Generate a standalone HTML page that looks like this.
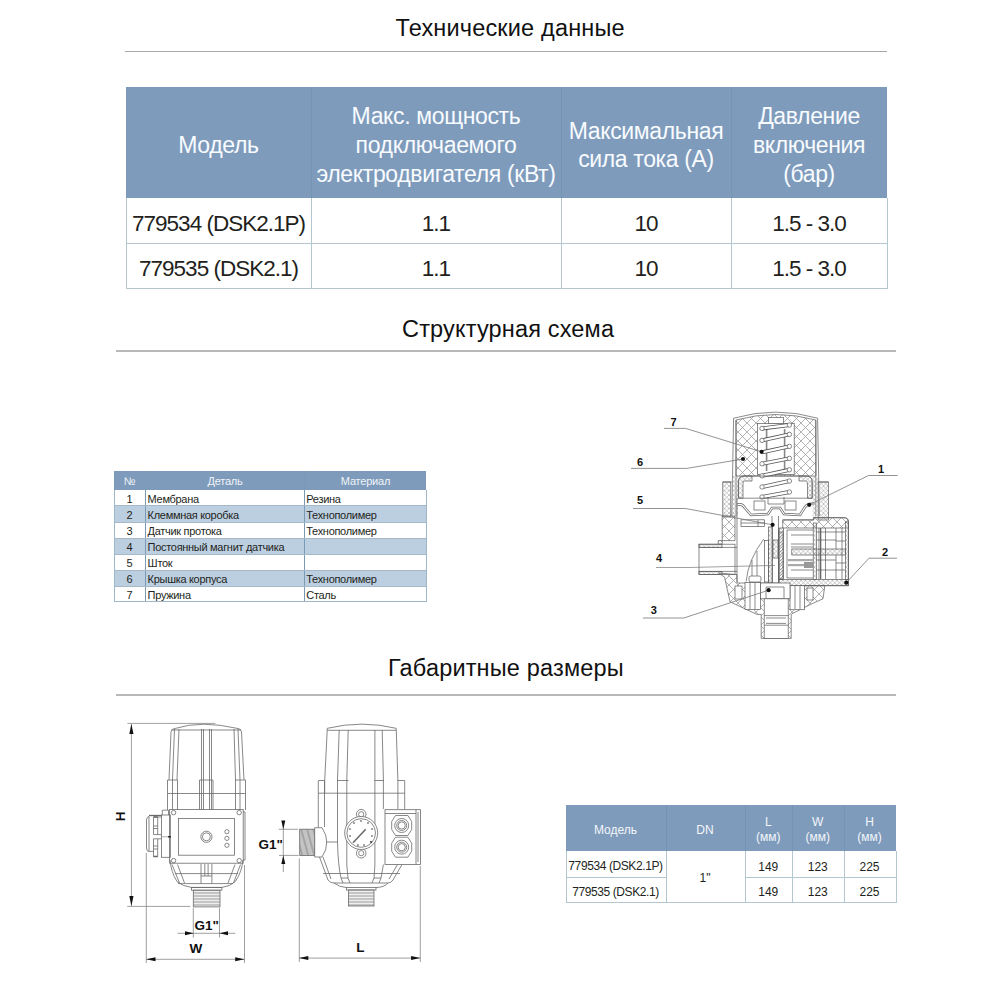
<!DOCTYPE html>
<html><head><meta charset="utf-8">
<style>
html,body{margin:0;padding:0;background:#fff;width:1000px;height:1000px;overflow:hidden;position:relative;font-family:"Liberation Sans",sans-serif;}
.a{position:absolute;white-space:nowrap;}
.title{font-size:23.5px;line-height:23.5px;color:#111;letter-spacing:0.17px;}
.hr{position:absolute;background:#b9b9b9;height:2px;}
.t1h{position:absolute;background:#7f9bbb;}
.wh{color:#fbfdff;}
.c{text-align:center;}
.vl{position:absolute;width:1px;}
.hl{position:absolute;height:1px;}
.b1{font-size:22.5px;line-height:22.5px;color:#231f20;letter-spacing:-1px;}
.h1{font-size:23px;line-height:23px;color:#f8fbff;letter-spacing:-0.36px;}
.s{font-size:11px;line-height:11px;color:#231f20;letter-spacing:-0.3px;}
.sh{font-size:11px;line-height:11px;color:#eef3f8;letter-spacing:-0.2px;}
.m{font-size:12px;line-height:12px;color:#231f20;}
.mh{font-size:12px;line-height:12px;color:#f2f6fa;}
</style></head><body>

<!-- ============ SECTION 1 ============ -->
<div class="a title" style="left:395.5px;top:16.7px;">Технические данные</div>
<div class="hr" style="left:125px;top:50.5px;width:762px;height:1.5px;background:#a8a8a8"></div>

<!-- table 1 -->
<div class="t1h" style="left:126px;top:87.2px;width:761px;height:111.3px;"></div>
<div class="a" style="left:126px;top:198px;width:760px;height:90px;border:1px solid #b4c6d0;border-top:none;box-sizing:content-box"></div>
<div class="vl" style="left:311px;top:87px;height:111px;background:#7494b3"></div>
<div class="vl" style="left:561px;top:87px;height:111px;background:#7494b3"></div>
<div class="vl" style="left:731px;top:87px;height:111px;background:#7494b3"></div>
<div class="vl" style="left:311px;top:198px;height:90px;background:#b4c6d0"></div>
<div class="vl" style="left:561px;top:198px;height:90px;background:#b4c6d0"></div>
<div class="vl" style="left:731px;top:198px;height:90px;background:#b4c6d0"></div>
<div class="hl" style="left:126px;top:243px;width:761px;background:#b4c6d0"></div>

<div class="a h1 c" style="left:126px;width:185px;top:133.7px">Модель</div>
<div class="a h1 c" style="left:311px;width:250px;top:105.1px">Макс. мощность</div>
<div class="a h1 c" style="left:311px;width:250px;top:133.9px">подключаемого</div>
<div class="a h1 c" style="left:311px;width:250px;top:162.7px">электродвигателя (кВт)</div>
<div class="a h1 c" style="left:561px;width:170px;top:119.5px">Максимальная</div>
<div class="a h1 c" style="left:561px;width:170px;top:148.3px">сила тока (А)</div>
<div class="a h1 c" style="left:731px;width:156px;top:105.1px">Давление</div>
<div class="a h1 c" style="left:731px;width:156px;top:133.9px">включения</div>
<div class="a h1 c" style="left:731px;width:156px;top:162.7px">(бар)</div>

<div class="a b1 c" style="left:126px;width:185px;top:213.3px">779534 (DSK2.1P)</div>
<div class="a b1 c" style="left:311px;width:250px;top:213.3px">1.1</div>
<div class="a b1 c" style="left:561px;width:170px;top:213.3px">10</div>
<div class="a b1 c" style="left:731px;width:156px;top:213.3px">1.5 - 3.0</div>
<div class="a b1 c" style="left:126px;width:185px;top:257.9px">779535 (DSK2.1)</div>
<div class="a b1 c" style="left:311px;width:250px;top:257.9px">1.1</div>
<div class="a b1 c" style="left:561px;width:170px;top:257.9px">10</div>
<div class="a b1 c" style="left:731px;width:156px;top:257.9px">1.5 - 3.0</div>

<!-- ============ SECTION 2 ============ -->
<div class="a title" style="left:402px;top:318px;">Структурная схема</div>
<div class="hr" style="left:116px;top:350px;width:780px;"></div>

<!-- small table -->
<div class="t1h" style="left:114px;top:471px;width:312px;height:18.5px;"></div>
<div id="stbody" class="a" style="left:114px;top:489.5px;width:311px;height:111px;border:1px solid #9fb7c9;border-top:none;"></div>
<div class="t1h" style="left:115px;top:505.5px;width:311px;height:17px;background:#bccfe0"></div>
<div class="t1h" style="left:115px;top:538.5px;width:311px;height:16px;background:#bccfe0"></div>
<div class="t1h" style="left:115px;top:570.5px;width:311px;height:15.5px;background:#bccfe0"></div>
<div class="vl" style="left:145px;top:471px;height:130px;background:#7a9ab6"></div>
<div class="vl" style="left:304px;top:471px;height:130px;background:#7a9ab6"></div>
<div class="hl" style="left:114px;top:505px;width:312px;background:#a5b9c9"></div>
<div class="hl" style="left:114px;top:522px;width:312px;background:#a5b9c9"></div>
<div class="hl" style="left:114px;top:538px;width:312px;background:#a5b9c9"></div>
<div class="hl" style="left:114px;top:554px;width:312px;background:#a5b9c9"></div>
<div class="hl" style="left:114px;top:570px;width:312px;background:#a5b9c9"></div>
<div class="hl" style="left:114px;top:585.5px;width:312px;background:#a5b9c9"></div>

<div class="a sh c" style="left:114px;width:31px;top:475.7px">№</div>
<div class="a sh c" style="left:145px;width:160px;top:475.7px">Деталь</div>
<div class="a sh c" style="left:305px;width:121px;top:475.7px">Материал</div>

<div id="st">
<div class="a s c" style="left:114px;width:31px;top:494.0px">1</div>
<div class="a s" style="left:147.6px;top:494.0px">Мембрана</div>
<div class="a s" style="left:306.3px;top:494.0px">Резина</div>
<div class="a s c" style="left:114px;width:31px;top:510.0px">2</div>
<div class="a s" style="left:147.6px;top:510.0px">Клеммная коробка</div>
<div class="a s" style="left:306.3px;top:510.0px">Технополимер</div>
<div class="a s c" style="left:114px;width:31px;top:526.0px">3</div>
<div class="a s" style="left:147.6px;top:526.0px">Датчик протока</div>
<div class="a s" style="left:306.3px;top:526.0px">Технополимер</div>
<div class="a s c" style="left:114px;width:31px;top:542.0px">4</div>
<div class="a s" style="left:147.6px;top:542.0px">Постоянный магнит датчика</div>
<div class="a s c" style="left:114px;width:31px;top:558.0px">5</div>
<div class="a s" style="left:147.6px;top:558.0px">Шток</div>
<div class="a s c" style="left:114px;width:31px;top:574.0px">6</div>
<div class="a s" style="left:147.6px;top:574.0px">Крышка корпуса</div>
<div class="a s" style="left:306.3px;top:574.0px">Технополимер</div>
<div class="a s c" style="left:114px;width:31px;top:590.0px">7</div>
<div class="a s" style="left:147.6px;top:590.0px">Пружина</div>
<div class="a s" style="left:306.3px;top:590.0px">Сталь</div>
</div>

<!-- SCHEMATIC -->
<svg class="a" style="left:0;top:0" width="1000" height="1000" viewBox="0 0 1000 1000">
<defs>
<pattern id="hx" patternUnits="userSpaceOnUse" width="9" height="9">
<path d="M0,0 L9,9 M9,0 L0,9" stroke="#999" stroke-width="0.75" fill="none"/>
</pattern>
<pattern id="hs" patternUnits="userSpaceOnUse" width="4.5" height="4.5">
<path d="M0,0 L4.5,4.5 M4.5,0 L0,4.5" stroke="#a0a0a0" stroke-width="0.6" fill="none"/>
</pattern>
<pattern id="hd" patternUnits="userSpaceOnUse" width="3" height="3">
<path d="M0,3 L3,0" stroke="#777" stroke-width="0.6" fill="none"/>
</pattern>
<marker id="ar" viewBox="0 0 10 4" refX="10" refY="2" markerWidth="9" markerHeight="4" markerUnits="userSpaceOnUse" orient="auto-start-reverse"><path d="M0,0 L10,2 L0,4 z" fill="#111"/></marker>
</defs>
<g fill="none" stroke="#5a5a5a" stroke-width="0.7">
<!-- ===== SCHEMATIC ===== -->
<!-- cap hatched -->
<path d="M736,420 Q776,409 815.8,420 L816,476 L736,476 Z" fill="url(#hx)"/>
<rect x="757.6" y="423.6" width="36.6" height="51" fill="#fff"/>
<rect x="768.4" y="417.6" width="15" height="6" fill="#fff"/>
<path d="M731.8,516 L733.6,418.2 Q776,406 817.6,418.2 L819.4,516"/>
<path d="M736,420 L736,516 M815.8,420 L815.8,516"/>
<!-- spring -->
<line x1="766.6" y1="429" x2="766.6" y2="471" stroke="#888" stroke-width="1.6"/>
<line x1="784.6" y1="429" x2="784.6" y2="471" stroke="#888" stroke-width="1.6"/>
<g stroke="#555" stroke-width="4"><path d="M762,428.4 L789.4,425 M762,440.4 L789.4,434.4 M762,452.4 L789.4,446.4 M762,463.8 L789.4,458.4 M762,475.8 L789.4,469.8 M762,487 L789.4,481 M762,497 L789.4,492"/></g>
<g stroke="#fff" stroke-width="2.4"><path d="M762,428.4 L789.4,425 M762,440.4 L789.4,434.4 M762,452.4 L789.4,446.4 M762,463.8 L789.4,458.4 M762,475.8 L789.4,469.8 M762,487 L789.4,481 M762,497 L789.4,492"/></g>
<g fill="#fff"><circle cx="762" cy="428.4" r="2.2"/><circle cx="762" cy="440.4" r="2.2"/><circle cx="762" cy="463.8" r="2.2"/><circle cx="762" cy="475.8" r="2.2"/><circle cx="762" cy="487" r="2.2"/><circle cx="762" cy="497" r="2.2"/>
<circle cx="789.4" cy="425" r="2.2"/><circle cx="789.4" cy="434.4" r="2.2"/><circle cx="789.4" cy="446.4" r="2.2"/><circle cx="789.4" cy="458.4" r="2.2"/><circle cx="789.4" cy="469.8" r="2.2"/><circle cx="789.4" cy="481" r="2.2"/><circle cx="789.4" cy="492" r="2.2"/></g>
<!-- body flange columns -->
<rect x="722.8" y="482" width="8" height="35" fill="url(#hs)"/>
<rect x="818.2" y="482" width="10.2" height="38" fill="url(#hs)"/>
<path d="M722.8,482 L731.8,482 M817.6,482 L828.4,482"/>
<rect x="732" y="476" width="6" height="41" fill="url(#hs)" stroke="none"/>
<rect x="812.5" y="476" width="6" height="44" fill="url(#hs)" stroke="none"/>
<!-- piston cup -->
<path d="M738.4,498.2 L738.4,482 Q738.4,476 744,476 L806.6,476 Q812.2,476 812.2,482 L812.2,498.2" fill="none"/>
<path d="M738.4,498.2 L738.4,482 Q738.4,476 744,476 L752,476 L752,481 L744,481 Q743,481 743,484 L743,498.2 Z" fill="url(#hs)"/>
<path d="M812.2,498.2 L812.2,482 Q812.2,476 806.6,476 L799,476 L799,481 L806,481 Q807.5,481 807.5,484 L807.5,498.2 Z" fill="url(#hs)"/>
<path d="M738.4,498.2 L812.2,498.2"/>
<!-- diaphragm -->
<path d="M737,505 Q742,503 745,508 L751,515 L768,514 L772,508 L780,508 L784,514 L800,515 L805,507 Q808,503 814,504" stroke-width="2.6" stroke="#666"/>
<path d="M737,505 Q742,503 745,508 L751,515 L768,514 L772,508 L780,508 L784,514 L800,515 L805,507 Q808,503 814,504" stroke-width="1.2" stroke="#fff"/>
<rect x="754" y="501" width="11" height="9" fill="#fff"/>
<rect x="785" y="501" width="11" height="9" fill="#fff"/>
<path d="M768,497 L768,504 L784,504 L784,497"/>
<!-- left body wall -->
<path d="M722.2,516 L735,516 L735,540.6 L718.2,540.6 L718.2,544.2 L722.2,544.2 Z" fill="url(#hx)"/>
<path d="M737,498 L737,582"/>
<!-- horizontal plate & box -->
<path d="M782.7,519.9 L813.7,519.9 L813.7,517.7 L844,517.7 Q848.4,517.7 848.4,522 L848.4,585.7 L779,585.7 L779,528" fill="none"/>
<path d="M782.7,519.9 L813.7,519.9 L813.7,517.7 L844,517.7 Q848.4,517.7 848.4,522 L848.4,528 L782.7,528 Z" fill="url(#hx)"/>
<rect x="779" y="579.4" width="69.4" height="6.3" fill="url(#hs)"/>
<rect x="779" y="528" width="4.5" height="51.4" fill="url(#hs)"/>
<rect x="845.4" y="522" width="3" height="57.4" fill="url(#hs)"/>
<rect x="813.2" y="523" width="3.2" height="56.4" fill="url(#hs)"/>
<rect x="791.8" y="549" width="53.6" height="6" fill="url(#hs)"/>
<path d="M787,530 L787,578 L813,578 M787,530 L813,530 M791,535 L813,535 M791,544 L813,544 M791,547 L813,547 M791,570 L813,570 M819,528 L819,579 M825.5,528 L825.5,579 M836,528 L836,549 M836,555 L836,579 M842,528 L842,579 M816.4,532 L845,532 M816.4,540 L836,540 M816.4,560 L836,560 M816.4,570 L845,570 M836,541 L845,541 M836,563 L845,563"/>
<path d="M820.7,528 L820.7,579" stroke-width="1.2"/>
<rect x="788" y="559" width="25" height="2.2" fill="#aaa" stroke="none"/>
<rect x="788" y="564" width="25" height="2.2" fill="#aaa" stroke="none"/>
<rect x="804" y="562" width="9" height="6" fill="#999" stroke="none"/>
<!-- stem column -->
<rect x="764.6" y="540.6" width="4" height="41.4" fill="#fff"/>
<rect x="768.6" y="527" width="3.8" height="56" fill="url(#hs)"/>
<rect x="778.5" y="532" width="4.5" height="47" fill="url(#hd)"/>
<rect x="773" y="540" width="5" height="18" fill="url(#hs)"/>
<path d="M772,516 L772,583 M778.5,516 L778.5,583 "/>
<rect x="741" y="519.8" width="23.6" height="6.8" fill="#fff"/><path d="M741,523 L764.6,523 M758,519.8 L758,526.6"/>
<!-- flow paddle arc -->
<path d="M763.8,539 Q748,560 746.2,581.4"/>
<path d="M752,560 L752,582 M757,551 L757,582"/>
<rect x="749" y="576" width="12" height="6" rx="2" fill="#fff"/>
<!-- inlet pipe -->
<rect x="699" y="544.2" width="36" height="30.4" fill="#fff"/>
<rect x="699" y="544.2" width="23" height="3.2" fill="url(#hs)"/>
<rect x="699" y="571.4" width="23" height="3.2" fill="url(#hs)"/>
<path d="M699,547.4 L737,547.4 M699,571.4 L737,571.4"/>
<!-- bottom body -->
<path d="M718.6,573 L737,574.6 L737,583 L779,583 L779,585.7 L824.8,585.7 L823,598.8 L812.2,603.6 L793,613.2 L791.2,614.4 L791.2,638.4 L761.2,638.4 L761.2,614.4 L757,614.4 L739,606 L730,601.8 L724.6,577.2 Z" fill="url(#hx)"/>
<rect x="745" y="582.6" width="15.6" height="27" fill="#fff"/>
<rect x="790" y="585.7" width="14.4" height="24" fill="#fff"/>
<rect x="760.6" y="583" width="29.4" height="15.8" fill="#fff"/>
<rect x="735" y="586" width="7" height="13" fill="#fff"/>
<rect x="807" y="588" width="6" height="12" fill="#fff"/>
<path d="M750,583 L750,609 M755,583 L755,609 M795,586 L795,609 M800,586 L800,609 M766,587 L784,587 L784,598 M766,587 L766,598"/>
<rect x="764.2" y="598.8" width="24" height="39.6" fill="#fff"/>
<path d="M764.2,615.6 L788.2,615.6 M766,618 L786,618 M766,623.4 L786,623.4 M764.2,625.2 L788.2,625.2"/>
<!-- center line 4 -->
<path d="M656,567.5 L689,567.5 L775,565.4" stroke="#777" stroke-width="0.7"/>
<!-- leaders -->
<g stroke="#777" stroke-width="0.8">
<path d="M664,428.4 L685.6,428.4 L761.6,451.8"/>
<path d="M631,468.4 L686.8,468.4 L743,459"/>
<path d="M633,508.5 L685.6,508.5 L772.6,524.8"/>
<path d="M897.7,475.5 L868.5,475.5 L809.2,504.8"/>
<path d="M897,558.2 L869,558.2 L846.3,582.7"/>
<path d="M643,618 L683.8,618 L768.6,590.2"/>
</g>
<g fill="#111" stroke="none">
<circle cx="761.6" cy="451.8" r="2.1"/><circle cx="743" cy="459" r="2.1"/><circle cx="809.2" cy="504.8" r="2.1"/>
<circle cx="772.6" cy="524.8" r="2.1"/><circle cx="846.3" cy="582.7" r="2.1"/><circle cx="768.6" cy="590.2" r="2.1"/>
</g>
</g>
<g font-family="Liberation Sans" font-weight="bold" font-size="11" fill="#111">
<text x="670.6" y="426">7</text><text x="637" y="465.6">6</text><text x="637" y="504">5</text>
<text x="656" y="561.5">4</text><text x="650.8" y="614">3</text><text x="878" y="473.2">1</text><text x="882" y="555.7">2</text>
</g>
</svg>


<!-- ============ SECTION 3 ============ -->
<div class="a title" style="left:388px;top:656.8px;">Габаритные размеры</div>
<div class="hr" style="left:116px;top:694px;width:780px;"></div>

<!-- DRAWINGS -->
<svg class="a" style="left:0;top:0" width="1000" height="1000" viewBox="0 0 1000 1000">
<defs>
<pattern id="th" patternUnits="userSpaceOnUse" width="4" height="3">
<rect width="4" height="3" fill="#c4c4c4"/><path d="M0,0.5 L4,0.5" stroke="#f4f4f4" stroke-width="0.9"/>
</pattern>
<pattern id="tdg" patternUnits="userSpaceOnUse" width="6" height="30" patternTransform="skewX(15)">
<rect width="6" height="30" fill="#c4c4c4"/><path d="M1,0 L1,30" stroke="#777" stroke-width="0.8"/>
</pattern>
</defs>
<g fill="none" stroke="#6a6a6a" stroke-width="0.8">
<!-- ===== LEFT VIEW (W) ===== -->
<!-- H dim -->
<path d="M127.4,723.4 L215.4,723.4" stroke="#777" stroke-width="0.7"/>
<path d="M127.2,906.4 L190.4,906.4" stroke="#777" stroke-width="0.7"/>
<path d="M131.4,724 L131.4,906" stroke="#777" stroke-width="0.7"/>
<path d="M131.4,724 L129.3,734 L133.5,734 Z M131.4,906 L129.3,896 L133.5,896 Z" fill="#111" stroke="none"/>
<!-- cap -->
<path d="M169,780 L171,732 Q171.5,728.5 175,728.5 Q201,720 238,728.5 Q241,728.5 241.5,732 L244,780"/>
<path d="M171.5,730 L241,730"/>
<path d="M174.5,729 L172.5,780 M179,729 L177,780 M234,729 L235.5,780 M238,729 L240,780"/>
<path d="M201.5,729 L201.5,810 M203.5,729 L203.5,810 M209.5,729 L209.5,810 M211.5,729 L211.5,810"/>
<!-- band -->
<path d="M167.5,780 L177.5,780 M199.5,780 L213,780 M235,780 L245.5,780 L245.5,810 M167.5,780 L167.5,810 M167.5,793.5 L245.5,793.5"/>
<path d="M172.5,780 L172.5,810 M177.5,780 L177.5,810 M235.5,780 L235.5,810 M240,780 L240,810 M199.5,780 L199.5,810 M213,780 L213,810"/>
<!-- box -->
<rect x="169.6" y="809.6" width="73.6" height="53.6" fill="#fff"/>
<path d="M243.2,812 L245,812 L245,860 L243.2,860"/>
<rect x="178.4" y="818.4" width="56" height="36.8"/>
<circle cx="173.6" cy="812.6" r="2.2"/><circle cx="239.2" cy="812.6" r="2.2"/><circle cx="173.6" cy="860.6" r="2.2"/><circle cx="239.2" cy="860.6" r="2.2"/>
<circle cx="206.4" cy="836.8" r="5.6"/><circle cx="206.4" cy="836.8" r="4"/>
<circle cx="226.9" cy="831.7" r="2.1"/><circle cx="226.9" cy="838.4" r="2.1"/><circle cx="226.9" cy="845.3" r="2.1"/>
<!-- glands -->
<path d="M162.3,815 L162.3,810.2 L168.5,810.2 L168.5,815"/>
<rect x="161.5" y="815" width="8.8" height="42.3"/>
<path d="M149,815.5 L161.5,815.5" stroke-width="1.3"/>
<path d="M149,816.4 L149,851.4 M149,816.4 Q146.5,817 146.5,820 L146.5,848 Q146.5,851.4 149,851.4 L153.5,851.4"/>
<path d="M153.5,817 L153.5,834.6 L157.7,834.6 L157.7,817 Z M153.5,826 L157.7,826 M153.5,828.5 L157.7,828.5 M157.7,817 L161.5,817 M157.7,834.6 L161.5,834.6"/>
<path d="M153.5,838.8 L153.5,856.5 L157.7,856.5 L157.7,838.8 Z M153.5,846 L157.7,846 M153.5,849 L157.7,849 M157.7,838.8 L161.5,838.8"/>
<path d="M153.5,817 L157.7,817 M153.5,856.5 L157.7,856.5" stroke-width="1.3"/>
<path d="M162,836.8 L170,836.8" stroke="#999"/>
<path d="M168,836.8 L171,836.8" stroke="#222" stroke-width="1.4"/>
<!-- lower body -->
<path d="M170,860 Q171,872 177.1,881.7 Q183,886.5 191.4,887.4 L221.9,887.4 Q230,886.5 235.2,881.7 Q242,872 242.9,860"/>
<path d="M172,864.5 L179.5,883 M177.5,864.5 L184.5,883 M240.5,864.5 L233.5,883 M235,864.5 L228,883 M175,873.6 L238,873.6 M178,883.6 L233,883.6"/>
<path d="M201,864 L201,883.6 M204.8,864 L204.8,876 M208.1,864 L208.1,876 M211.9,864 L211.9,883.6 M201,876 L211.9,876"/>
<rect x="191.4" y="887.4" width="30.5" height="2.8"/>
<rect x="193.3" y="890.2" width="26.7" height="16.7" fill="url(#th)"/>
<!-- G1 dim (bottom) -->
<path d="M193.3,908 L193.3,937.6 M219.5,908 L219.5,937.6" stroke="#777" stroke-width="0.7"/>
<path d="M177.5,933.3 L235.3,933.3" stroke="#777" stroke-width="0.7"/>
<path d="M193.7,933.3 L185,931.3 L185,935.3 Z M219.5,933.3 L228,931.3 L228,935.3 Z" fill="#111" stroke="none"/>
<!-- W dim -->
<path d="M146.3,853 L146.3,963 M244.5,865 L244.5,963" stroke="#777" stroke-width="0.7"/>
<path d="M146.3,959.3 L244.4,959.3" stroke="#777" stroke-width="0.7"/>
<path d="M146.3,959.3 L155.5,957.3 L155.5,961.3 Z M244.4,959.3 L235.2,957.3 L235.2,961.3 Z" fill="#111" stroke="none"/>

<!-- ===== RIGHT VIEW (L) ===== -->
<path d="M324.7,780.5 L327.3,728.3 Q362,720 396.2,728.3 L397.9,780.5"/>
<path d="M327.3,730.3 L396.2,730.3"/>
<path d="M339.2,730 L337.5,780 M348.2,730 L346.8,780 M374.9,730 L374.9,780 M382.2,730 L383.4,780"/>
<path d="M318.3,780.5 L325,780.5 M337,780.5 L348.5,780.5 M374.5,780.5 L384,780.5 M397.5,780.5 L404.7,780.5 M318.3,793.2 L404.7,793.2 M318.3,780.5 L318.3,827.7 M404.7,780.5 L404.7,809.5"/>
<path d="M324.5,780.5 L324.5,827 M337.5,780 L337.5,842 M346.8,780 L346.8,865 M374.9,780 L374.9,865 M383.4,780 L383.4,809"/>
<path d="M324.7,780.5 L324.7,793.2 M397.9,780.5 L397.9,809"/>
<!-- lower body -->
<path d="M319.5,857 L328,880 Q330,883 334,883 L388,883 Q391,883 393,880 L402,864.5"/>
<path d="M323,857 L331,879 M397.5,864.5 L389,879 M323,873.5 L400,873.5 M334,883 Q340,887.5 346.5,887.5 M376,887.5 Q384,887.5 388,883"/>
<path d="M337.5,842 Q338,865 341,878 L343,883 M346.8,865 L348,878 L350,883 M374.9,865 L374,878 L372,883 M383.4,864.5 L381,878 L379,883 M341,878 L348,878 M374,878 L381,878"/>
<rect x="346.5" y="887.5" width="29.5" height="2.5"/>
<rect x="348.5" y="890" width="25.5" height="16" fill="url(#th)"/>
<!-- gauge -->
<circle cx="361.2" cy="814.2" r="4.8" fill="#fff"/><circle cx="361.2" cy="814.2" r="2.6"/>
<circle cx="361.2" cy="853.2" r="4.8" fill="#fff"/><circle cx="361.2" cy="853.2" r="2.6"/>
<circle cx="361.2" cy="833" r="16.5" fill="#fff"/><circle cx="361.2" cy="833" r="14.3"/>
<path d="M353,842.7 L365.7,829.2" stroke-width="1.6"/>
<g fill="#333" stroke="none"><circle cx="361" cy="821" r="0.8"/><circle cx="354" cy="823" r="0.8"/><circle cx="368" cy="823" r="0.8"/><circle cx="350" cy="829" r="0.8"/><circle cx="372" cy="829" r="0.8"/><circle cx="350" cy="836" r="0.8"/><circle cx="372" cy="836" r="0.8"/><circle cx="371" cy="842" r="1"/><circle cx="358" cy="845" r="0.8"/><circle cx="364" cy="845" r="0.8"/></g>
<!-- junction box -->
<rect x="385" y="809.7" width="35.4" height="54.8" fill="#fff"/>
<path d="M385,813.5 L416,813.5 M416,809.7 L416,864.5 M418,812 L418,862"/>
<polygon points="395.5,815.5 407.9,815.5 411.7,821.5 411.7,829.5 407.9,835.5 395.5,835.5 391.7,829.5 391.7,821.5" />
<circle cx="401.7" cy="825.5" r="7"/><circle cx="401.7" cy="825.5" r="5"/><circle cx="401.7" cy="825.5" r="3.6"/>
<polygon points="395.5,837.2 407.9,837.2 411.7,843.2 411.7,851.2 407.9,857.2 395.5,857.2 391.7,851.2 391.7,843.2" />
<circle cx="401.7" cy="847.2" r="7"/><circle cx="401.7" cy="847.2" r="5"/><circle cx="401.7" cy="847.2" r="3.6"/>
<!-- inlet -->
<rect x="299.7" y="829.2" width="15" height="26.3" fill="url(#tdg)"/>
<path d="M314.7,827.7 L322,827.7 Q327,835 326.7,842 Q327,850 322,857 L314.7,857 Z" fill="#fff"/>
<path d="M326.7,842 L337.5,842"/>
<!-- G1 dim left -->
<path d="M278.8,829.3 L298,829.3 M279,855.4 L298.7,855.4" stroke="#777" stroke-width="0.7"/>
<path d="M283.3,821 L283.3,872" stroke="#777" stroke-width="0.7"/>
<path d="M283.3,829.3 L281.3,820.5 L285.3,820.5 Z M283.3,855.4 L281.3,864 L285.3,864 Z" fill="#111" stroke="none"/>
<!-- L dim -->
<path d="M299.3,858.4 L299.3,962 M420.3,866 L420.3,962" stroke="#777" stroke-width="0.7"/>
<path d="M299.1,958.1 L420.3,958.1" stroke="#777" stroke-width="0.7"/>
<path d="M299.1,958.1 L308.3,956.1 L308.3,960.1 Z M420.3,958.1 L411.1,956.1 L411.1,960.1 Z" fill="#111" stroke="none"/>
</g>
<g font-family="Liberation Sans" font-weight="bold" fill="#111">
<text x="194.6" y="930.3" font-size="13.5">G1"</text>
<text x="189.4" y="953.4" font-size="13.5">W</text>
<text x="258.6" y="849" font-size="13.5">G1"</text>
<text x="356.2" y="952.2" font-size="13.5">L</text>
<text transform="translate(125.3,813.2) rotate(-90)" x="-8" y="0" font-size="13.5">H</text>
</g>
</svg>


<!-- table 3 -->
<div class="t1h" style="left:565.5px;top:804.6px;width:330px;height:46.8px;"></div>
<div class="a" style="left:565.5px;top:851px;width:329px;height:51px;border:1px solid #b4c6d0;border-top:none;"></div>
<div class="vl" style="left:665.5px;top:805px;height:46px;background:#7494b3"></div>
<div class="vl" style="left:744.5px;top:805px;height:46px;background:#7494b3"></div>
<div class="vl" style="left:792px;top:805px;height:46px;background:#7494b3"></div>
<div class="vl" style="left:843.5px;top:805px;height:46px;background:#7494b3"></div>
<div class="vl" style="left:665.5px;top:851px;height:52px;background:#b4c6d0"></div>
<div class="vl" style="left:744.5px;top:851px;height:52px;background:#b4c6d0"></div>
<div class="vl" style="left:792px;top:851px;height:52px;background:#b4c6d0"></div>
<div class="vl" style="left:843.5px;top:851px;height:52px;background:#b4c6d0"></div>
<div class="hl" style="left:565.5px;top:877px;width:100px;background:#b4c6d0"></div>
<div class="hl" style="left:744.5px;top:877px;width:151px;background:#b4c6d0"></div>

<div class="a mh c" style="left:565.5px;width:100px;top:824.1px">Модель</div>
<div class="a mh c" style="left:665.5px;width:79px;top:824.1px">DN</div>
<div class="a mh c" style="left:744.5px;width:47.5px;top:815.6px">L</div>
<div class="a mh c" style="left:744.5px;width:47.5px;top:830.8px">(мм)</div>
<div class="a mh c" style="left:792px;width:51.5px;top:815.6px">W</div>
<div class="a mh c" style="left:792px;width:51.5px;top:830.8px">(мм)</div>
<div class="a mh c" style="left:843.5px;width:52px;top:815.6px">H</div>
<div class="a mh c" style="left:843.5px;width:52px;top:830.8px">(мм)</div>

<div class="a m c" style="left:565.5px;width:100px;top:860.2px;letter-spacing:-0.4px">779534 (DSK2.1P)</div>
<div class="a m c" style="left:565.5px;width:100px;top:885.7px;letter-spacing:-0.4px">779535 (DSK2.1)</div>
<div class="a m c" style="left:665.5px;width:79px;top:871.8px">1"</div>
<div class="a m c" style="left:744.5px;width:47.5px;top:860.6px">149</div>
<div class="a m c" style="left:792px;width:51.5px;top:860.6px">123</div>
<div class="a m c" style="left:843.5px;width:52px;top:860.6px">225</div>
<div class="a m c" style="left:744.5px;width:47.5px;top:885.7px">149</div>
<div class="a m c" style="left:792px;width:51.5px;top:885.7px">123</div>
<div class="a m c" style="left:843.5px;width:52px;top:885.7px">225</div>

</body></html>
